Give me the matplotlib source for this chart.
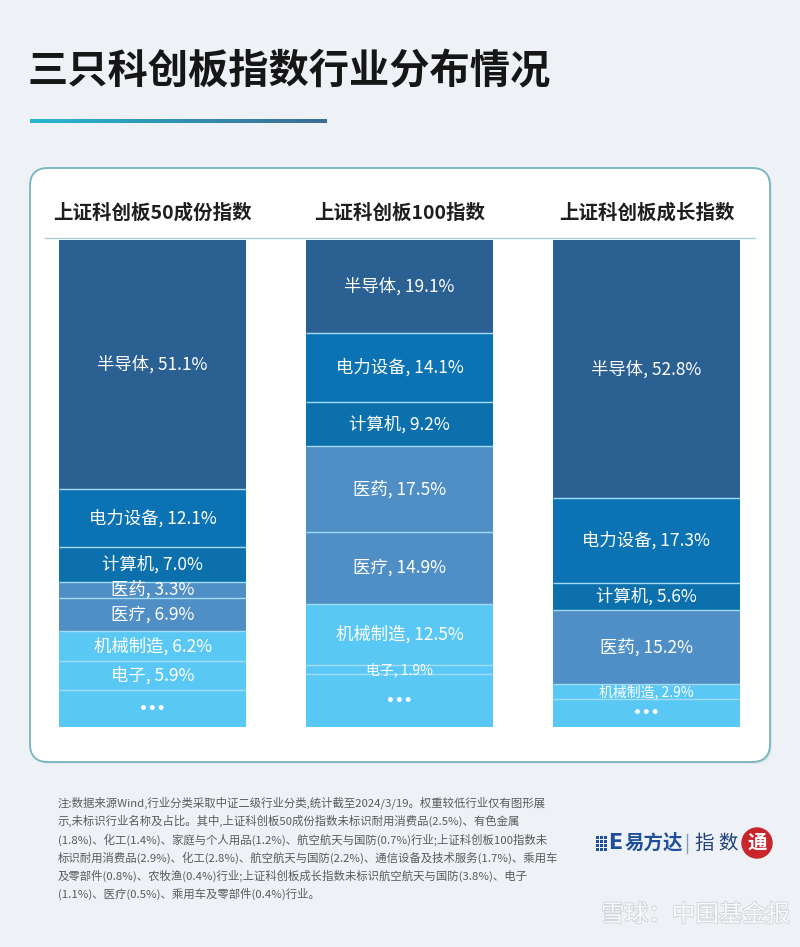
import numpy as np
import matplotlib.pyplot as plt
from matplotlib.patches import FancyBboxPatch, Circle
from matplotlib.colors import LinearSegmentedColormap
import matplotlib.patheffects as pe

plt.rcParams['font.family'] = ['Noto Sans CJK SC', 'DejaVu Sans']

title = '三只科创板指数行业分布情况'
indices = ['上证科创板50成份指数', '上证科创板100指数', '上证科创板成长指数']

# 已标识行业及权重(%)，others 为脚注中未标识的行业
sectors_50 = ['半导体', '电力设备', '计算机', '医药', '医疗', '机械制造', '电子']
weights_50 = [51.1, 12.1, 7.0, 3.3, 6.9, 6.2, 5.9]
others_50 = [2.5, 1.8, 1.4, 1.2, 0.7]

sectors_100 = ['半导体', '电力设备', '计算机', '医药', '医疗', '机械制造', '电子']
weights_100 = [19.1, 14.1, 9.2, 17.5, 14.9, 12.5, 1.9]
others_100 = [2.9, 2.8, 2.2, 1.7, 0.8, 0.4]

sectors_growth = ['半导体', '电力设备', '计算机', '医药', '机械制造']
weights_growth = [52.8, 17.3, 5.6, 15.2, 2.9]
others_growth = [3.8, 1.1, 0.5, 0.4]

colors = {'半导体': '#2b6093', '电力设备': '#0b73b3', '计算机': '#0b70ac',
          '医药': '#4f8fc6', '医疗': '#4f8fc6', '机械制造': '#5ac8f5',
          '电子': '#5ac8f5', '其他': '#5ac8f5'}

note_lines = [
    '注:数据来源Wind,行业分类采取中证二级行业分类,统计截至2024/3/19。权重较低行业仅有图形展',
    '示,未标识行业名称及占比。其中,上证科创板50成份指数未标识耐用消费品(2.5%)、有色金属',
    '(1.8%)、化工(1.4%)、家庭与个人用品(1.2%)、航空航天与国防(0.7%)行业;上证科创板100指数未',
    '标识耐用消费品(2.9%)、化工(2.8%)、航空航天与国防(2.2%)、通信设备及技术服务(1.7%)、乘用车',
    '及零部件(0.8%)、农牧渔(0.4%)行业;上证科创板成长指数未标识航空航天与国防(3.8%)、电子',
    '(1.1%)、医疗(0.5%)、乘用车及零部件(0.4%)行业。',
]

W, H = 800, 947
fig = plt.figure(figsize=(W / 100, H / 100), dpi=100)
fig.patch.set_facecolor('#eef2f6')

# 背景层，像素坐标
bg = fig.add_axes([0, 0, 1, 1])
bg.set_facecolor('#eef2f6')

bg.text(28, 72, title, fontsize=29, fontweight='black', color='#161616',
        va='center', ha='left')

grad = np.linspace(0, 1, 200).reshape(1, -1)
cmap = LinearSegmentedColormap.from_list('ul', ['#27b7d3', '#3d6c93'])
bg.imshow(grad, extent=(30, 327, 123, 119), aspect='auto', cmap=cmap)

shadow = FancyBboxPatch((32, 170), 740, 594, boxstyle='round,pad=0,rounding_size=18',
                        fc='#d5dde3', ec='none', alpha=0.6)
bg.add_patch(shadow)
panel = FancyBboxPatch((30, 168), 740, 594, boxstyle='round,pad=0,rounding_size=18',
                       fc='white', ec='#74b4bd', lw=1.3)
bg.add_patch(panel)
bg.plot([45, 755], [238, 238], color='#a9ccd6', lw=1)

for k, line in enumerate(note_lines):
    bg.text(58, 803 + k * 18.2, line, fontsize=8.2, color='#5a5a5a', va='center', ha='left')

# 易方达 logo
for r in range(4):
    for c in range(3):
        bg.add_patch(plt.Rectangle((596 + c * 4, 836 + r * 4), 2.6, 2.6,
                                   color='#1f4f9a', lw=0))
bg.text(608, 843, 'E', fontsize=15, fontweight='black', color='#1f4f9a',
        va='center', ha='left', family='DejaVu Sans')
bg.text(625, 843, '易方达', fontsize=14, fontweight='black', color='#1f4f9a',
        va='center', ha='left')
bg.plot([687, 687], [834, 853], color='#8a9bb0', lw=1)
bg.text(695, 843, '指 数', fontsize=14, color='#1f3f7a', va='center', ha='left')
bg.add_patch(Circle((757, 843), 15, color='#c8252c'))
bg.text(757, 843, '通', fontsize=14, fontweight='bold', color='white',
        va='center', ha='center')

# 水印
bg.text(790, 915, '雪球：中国基金报', fontsize=17, color='white', alpha=0.9,
        va='center', ha='right',
        path_effects=[pe.withStroke(linewidth=1.2, foreground='#c9cfd4')])

bg.set_xlim(0, W)
bg.set_ylim(H, 0)
bg.axis('off')

# 柱状图层
ax = fig.add_axes([59 / W, (H - 727) / H, 681 / W, 487 / H])
ax.patch.set_alpha(0)

groups = [(sectors_50, weights_50, others_50),
          (sectors_100, weights_100, others_100),
          (sectors_growth, weights_growth, others_growth)]
bw = 0.758

for i, (secs, ws, oth) in enumerate(groups):
    total = sum(ws) + sum(oth)
    names = secs + ['其他']
    vals = ws + [sum(oth)]
    bottom = 0
    for name, v in zip(names, vals):
        h = v / total * 100
        ax.bar(i, h, bottom=bottom, width=bw, color=colors[name], lw=0, align='center')
        if bottom > 0:
            ax.hlines(bottom, i - bw / 2, i + bw / 2, color='#a3daf4', lw=1)
        if name == '其他':
            ax.text(i, bottom + h / 2, '•••', color='white', fontsize=10,
                    fontweight='bold', ha='center', va='center', family='DejaVu Sans')
        else:
            fs = 10 if v < 3 else 12.5
            ax.text(i, bottom + h / 2, f'{name}, {v:.1f}%', color='white', fontsize=fs,
                    ha='center', va='center')
        bottom += h
    ax.text(i, -5.5, indices[i], fontsize=14, fontweight='bold', color='#1e1e1e',
            ha='center', va='center', clip_on=False)

ax.set_xlim(-0.379, 2.379)
ax.set_ylim(100, 0)
ax.axis('off')

fig.savefig('out.png', dpi=100, facecolor=fig.get_facecolor())
